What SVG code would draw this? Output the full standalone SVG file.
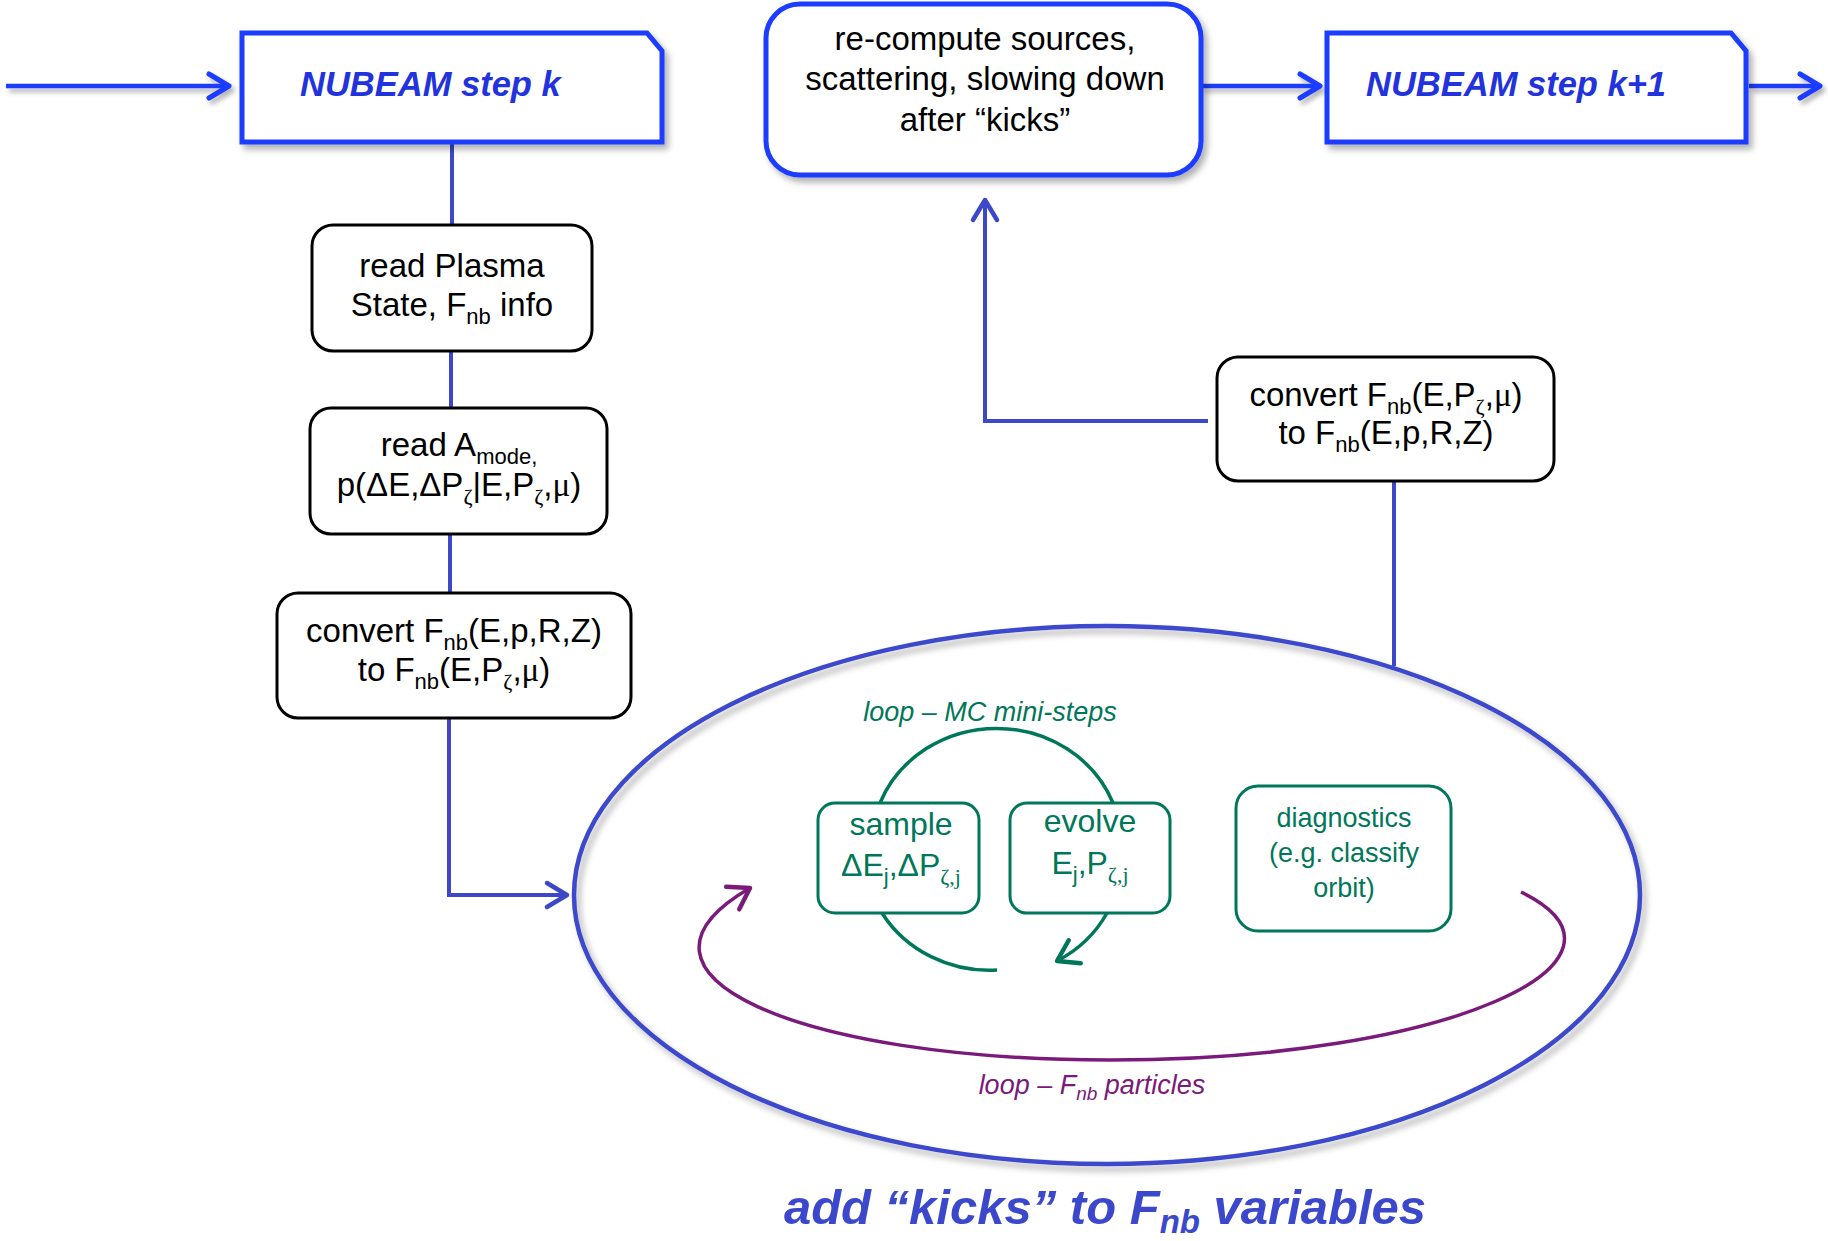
<svg xmlns="http://www.w3.org/2000/svg" width="1828" height="1241" viewBox="0 0 1828 1241">
<defs>
<filter id="sh" x="-10%" y="-10%" width="120%" height="130%">
<feDropShadow dx="4" dy="5" stdDeviation="3" flood-color="#000" flood-opacity="0.3"/>
</filter>
<filter id="shl" filterUnits="userSpaceOnUse" x="0" y="0" width="1828" height="1241">
<feDropShadow dx="3" dy="4" stdDeviation="2.5" flood-color="#000" flood-opacity="0.3"/>
</filter>
<marker id="ab" markerUnits="userSpaceOnUse" viewBox="-26 -16 30 32" refX="0" refY="0" markerWidth="30" markerHeight="32" orient="auto">
<path d="M-20,-12 L0,0 L-20,12" fill="none" stroke="#1a3cff" stroke-width="5" stroke-linecap="round" stroke-linejoin="round"/>
</marker>
<marker id="ac" markerUnits="userSpaceOnUse" viewBox="-26 -16 30 32" refX="0" refY="0" markerWidth="30" markerHeight="32" orient="auto">
<path d="M-20,-12 L0,0 L-20,12" fill="none" stroke="#3c48c8" stroke-width="4.5" stroke-linecap="round" stroke-linejoin="round"/>
</marker>
<marker id="ag" markerUnits="userSpaceOnUse" viewBox="-26 -16 30 32" refX="0" refY="0" markerWidth="30" markerHeight="32" orient="auto">
<path d="M-20,-13 L0,0 L-20,13" fill="none" stroke="#00775a" stroke-width="4.5" stroke-linecap="round" stroke-linejoin="round"/>
</marker>
<marker id="ap" markerUnits="userSpaceOnUse" viewBox="-26 -16 30 32" refX="0" refY="0" markerWidth="30" markerHeight="32" orient="auto">
<path d="M-20,-13 L0,0 L-20,13" fill="none" stroke="#7a1a7a" stroke-width="4.5" stroke-linecap="round" stroke-linejoin="round"/>
</marker>
</defs>
<style>
text{font-family:"Liberation Sans",Arial,sans-serif;text-anchor:middle;}
.nb{fill:#fff;stroke:#1a3cff;stroke-width:5;}
.bb{fill:#fff;stroke:#000;stroke-width:3;}
.gb{fill:#fff;stroke:#00775a;stroke-width:3;}
.t{font-size:33px;fill:#000;}
.nt{font-size:34.5px;font-weight:bold;font-style:italic;fill:#2233dd;text-anchor:start;}
.g{fill:#00775a;}
.sub{font-size:22px;}
.gr{font-family:"Liberation Serif","DejaVu Serif",serif;}
.cb{fill:none;stroke:#1a3cff;stroke-width:4.5;}
.cc{fill:none;stroke:#3c48c8;stroke-width:4;}
</style>

<g id="connectors">
<path class="cb" d="M6,86 H229" marker-end="url(#ab)" filter="url(#shl)"/>
<path class="cb" d="M1201,86 H1320" marker-end="url(#ab)" filter="url(#shl)"/>
<path class="cb" d="M1749,86 H1820" marker-end="url(#ab)" filter="url(#shl)"/>
<path class="cc" d="M452,142 V225"/>
<path class="cc" d="M451,351 V408"/>
<path class="cc" d="M450,534 V593"/>
<path class="cc" d="M449,718 V895 H567" marker-end="url(#ac)"/>
<path class="cc" d="M1394,666 V481"/>
<path class="cc" d="M1208,421 H985 V200" marker-end="url(#ac)"/>
</g>

<g id="node-step-k">
<path class="nb" d="M242,33 H647 L662,51 V142 H242 Z" filter="url(#sh)"/>
<text class="nt" x="300" y="96">NUBEAM step k</text>
</g>

<g id="node-recompute">
<rect x="766" y="4" width="435" height="171" rx="34" class="nb" filter="url(#sh)"/>
<text class="t" x="985" y="50">re-compute sources,</text>
<text class="t" x="985" y="90">scattering, slowing down</text>
<text class="t" x="985" y="131">after “kicks”</text>
</g>

<g id="node-step-k1">
<path class="nb" d="M1327,33 H1731 L1746,51 V142 H1327 Z" filter="url(#sh)"/>
<text class="nt" x="1366" y="96">NUBEAM step k+1</text>
</g>

<g id="node-read-plasma">
<rect x="312" y="225" width="280" height="126" rx="21" class="bb"/>
<text class="t" x="452" y="277">read Plasma</text>
<text class="t" x="452" y="316">State, F<tspan class="sub" dy="8">nb</tspan><tspan dy="-8"> info</tspan></text>
</g>

<g id="node-read-amode">
<rect x="310" y="408" width="297" height="126" rx="21" class="bb"/>
<text class="t" x="459" y="456">read A<tspan class="sub" dy="8">mode,</tspan></text>
<text class="t" x="459" y="496">p(ΔE,ΔP<tspan class="sub gr" dy="8">ζ</tspan><tspan dy="-8">|E,P</tspan><tspan class="sub gr" dy="8">ζ</tspan><tspan dy="-8">,</tspan><tspan class="gr">μ</tspan>)</text>
</g>

<g id="node-convert-1">
<rect x="277" y="593" width="354" height="125" rx="21" class="bb"/>
<text class="t" x="454" y="642">convert F<tspan class="sub" dy="8">nb</tspan><tspan dy="-8">(E,p,R,Z)</tspan></text>
<text class="t" x="454" y="681">to F<tspan class="sub" dy="8">nb</tspan><tspan dy="-8">(E,P</tspan><tspan class="sub gr" dy="8">ζ</tspan><tspan dy="-8">,</tspan><tspan class="gr">μ</tspan>)</text>
</g>

<g id="node-convert-2">
<rect x="1217" y="357" width="337" height="124" rx="21" class="bb"/>
<text class="t" x="1386" y="406">convert F<tspan class="sub" dy="8">nb</tspan><tspan dy="-8">(E,P</tspan><tspan class="sub gr" dy="8">ζ</tspan><tspan dy="-8">,</tspan><tspan class="gr">μ</tspan>)</text>
<text class="t" x="1386" y="444">to F<tspan class="sub" dy="8">nb</tspan><tspan dy="-8">(E,p,R,Z)</tspan></text>
</g>

<g id="node-kicks">
<ellipse cx="1107" cy="895" rx="533" ry="269" fill="none" stroke="#3c48cc" stroke-width="4.5" filter="url(#sh)"/>
<text x="1105" y="1224" font-size="49" font-weight="bold" font-style="italic" fill="#3c48cc">add “kicks” to F<tspan font-size="33" dy="9">nb</tspan><tspan dy="-9"> variables</tspan></text>
</g>

<g id="loop-mc">
<path d="M880,803 A125,117 0 0 1 1113,803" fill="none" stroke="#00775a" stroke-width="3.5"/>
<path d="M882,913 A125,117 0 0 0 997,970" fill="none" stroke="#00775a" stroke-width="3.5"/>
<path d="M1107,913 A125,117 0 0 1 1057,961" fill="none" stroke="#00775a" stroke-width="3.5" marker-end="url(#ag)"/>
<text x="990" y="721" font-size="27" font-style="italic" class="g">loop – MC mini-steps</text>
</g>

<g id="node-sample">
<rect x="818" y="803" width="161" height="110" rx="17" class="gb"/>
<text x="901" y="835" font-size="32" class="g">sample</text>
<text x="901" y="876" font-size="32" class="g">ΔE<tspan class="sub" dy="8">j</tspan><tspan dy="-8">,ΔP</tspan><tspan class="sub gr" dy="8">ζ,j</tspan></text>
</g>

<g id="node-evolve">
<rect x="1010" y="803" width="160" height="110" rx="17" class="gb"/>
<text x="1090" y="832" font-size="32" class="g">evolve</text>
<text x="1090" y="874" font-size="32" class="g">E<tspan class="sub" dy="8">j</tspan><tspan dy="-8">,P</tspan><tspan class="sub gr" dy="8">ζ,j</tspan></text>
</g>

<g id="node-diagnostics">
<rect x="1236" y="786" width="215" height="145" rx="22" class="gb"/>
<text x="1344" y="827" font-size="27" class="g">diagnostics</text>
<text x="1344" y="862" font-size="27" class="g">(e.g. classify</text>
<text x="1344" y="897" font-size="27" class="g">orbit)</text>
</g>

<g id="loop-particles">
<path d="M1521,892 C1660,960 1450,1060 1110,1060 C800,1060 600,975 750,888" fill="none" stroke="#7a1a7a" stroke-width="3.5" marker-end="url(#ap)"/>
<text x="1092" y="1094" font-size="27" font-style="italic" fill="#7a1a7a">loop – F<tspan font-size="19" dy="6">nb</tspan><tspan dy="-6"> particles</tspan></text>
</g>
</svg>
